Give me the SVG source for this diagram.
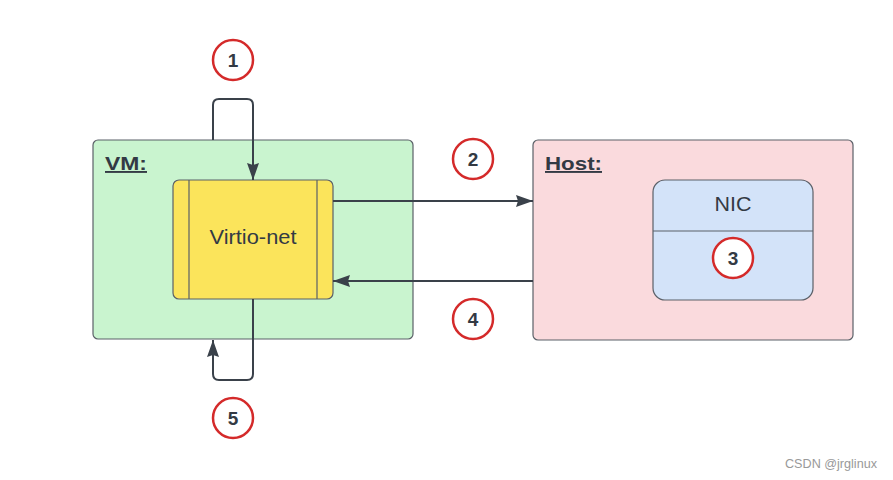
<svg xmlns="http://www.w3.org/2000/svg" width="893" height="480" viewBox="0 0 893 480">
<defs>
<style>
.box{stroke:#5b6068;stroke-width:1.2}
.conn{fill:none;stroke:#3a414a;stroke-width:2;stroke-linejoin:round}
.num{fill:#fff;stroke:#d42a2a;stroke-width:2.5}
.numt{font-family:"Liberation Sans",Arial,sans-serif;font-weight:bold;font-size:19px;fill:#333a44;text-anchor:middle}
.lbl{font-family:"Liberation Sans",Arial,sans-serif;font-weight:bold;font-size:19px;fill:#333a44;text-decoration:underline}
.txt{font-family:"Liberation Sans",Arial,sans-serif;font-size:21px;fill:#333a44;text-anchor:middle}
</style>
<marker id="ah" markerWidth="18" markerHeight="14" refX="17" refY="7" orient="auto" markerUnits="userSpaceOnUse">
<path d="M0,1 L17,7 L0,13 L2,7 Z" fill="#3a414a"/>
</marker>
</defs>
<rect width="893" height="480" fill="#fff"/>
<g id="vm">
<rect class="box" x="93" y="140" width="320" height="199" rx="5" fill="#c9f4cf"/>
<text class="lbl" x="105" y="170" textLength="42" lengthAdjust="spacingAndGlyphs">VM:</text>
</g>
<g id="host">
<rect class="box" x="533" y="140" width="320" height="200" rx="5" fill="#fadadd"/>
<text class="lbl" x="545" y="170" textLength="57" lengthAdjust="spacingAndGlyphs">Host:</text>
</g>
<g id="virtio-net">
<rect class="box" x="173" y="180" width="160" height="119" rx="6" fill="#fbe45b"/>
<line class="box" x1="189" y1="180" x2="189" y2="299"/>
<line class="box" x1="317" y1="180" x2="317" y2="299"/>
<text class="txt" x="253" y="244" textLength="87" lengthAdjust="spacingAndGlyphs">Virtio-net</text>
</g>
<g id="nic">
<rect class="box" x="653" y="180" width="160" height="120" rx="12" fill="#d3e3f9"/>
<line class="box" x1="653" y1="231" x2="813" y2="231"/>
<text class="txt" x="733" y="211" textLength="37" lengthAdjust="spacingAndGlyphs">NIC</text>
</g>
<g id="connectors">
<path class="conn" d="M213,140 V105 Q213,99 219,99 H247 Q253,99 253,105 V180" marker-end="url(#ah)"/>
<path class="conn" d="M333,201 H533" marker-end="url(#ah)"/>
<path class="conn" d="M533,281 H333" marker-end="url(#ah)"/>
<path class="conn" d="M253,299 V374 Q253,380 247,380 H219 Q213,380 213,374 V340" marker-end="url(#ah)"/>
</g>
<g id="n1"><circle class="num" cx="233" cy="60" r="20"/><text class="numt" x="233" y="67">1</text></g>
<g id="n2"><circle class="num" cx="473" cy="159" r="20"/><text class="numt" x="473" y="166">2</text></g>
<g id="n3"><circle class="num" cx="733" cy="258" r="20"/><text class="numt" x="733" y="265">3</text></g>
<g id="n4"><circle class="num" cx="473" cy="319" r="20"/><text class="numt" x="473" y="326">4</text></g>
<g id="n5"><circle class="num" cx="233" cy="418" r="20"/><text class="numt" x="233" y="425">5</text></g>
<text x="785" y="468" font-family="'Liberation Sans',Arial,sans-serif" font-size="13" fill="#999" textLength="92" lengthAdjust="spacingAndGlyphs">CSDN @jrglinux</text>
</svg>
